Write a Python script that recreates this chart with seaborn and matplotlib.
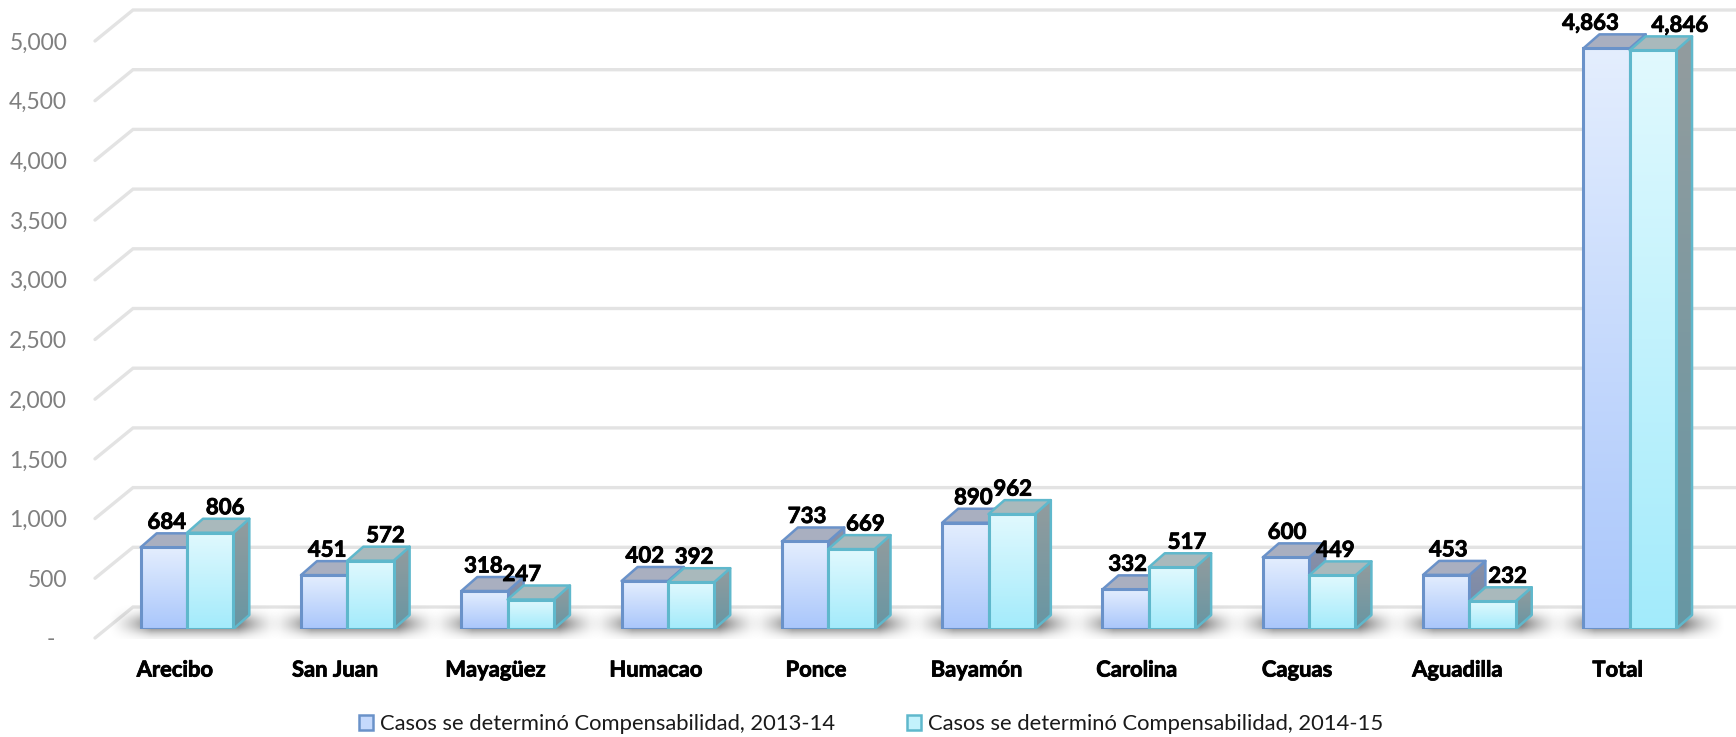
import numpy as np
import pandas as pd
import matplotlib
matplotlib.use("Agg")
import matplotlib.pyplot as plt
import matplotlib.patheffects as pe
from matplotlib.colors import LinearSegmentedColormap
from matplotlib.patches import Patch, Polygon
import seaborn as sns

categories = ["Arecibo", "San Juan", "Mayagüez", "Humacao", "Ponce", "Bayamón",
              "Carolina", "Caguas", "Aguadilla", "Total"]
series_names = ["Casos se determinó Compensabilidad, 2013-14",
                "Casos se determinó Compensabilidad, 2014-15"]
values_1314 = [684, 451, 318, 402, 733, 890, 332, 600, 453, 4863]
values_1415 = [806, 572, 247, 392, 669, 962, 517, 449, 232, 4846]
y_ticks = [0, 500, 1000, 1500, 2000, 2500, 3000, 3500, 4000, 4500, 5000]

# styling / layout (pixels)
W, H = 1736, 737
PX_PER_UNIT = 0.1194
PX_PER_CAT = 160.3
FIRST_CENTER = 187
LEFT = 95
FLOOR_FRONT = H - 638
BAR_BASE = H - 629
WALL_DX, WALL_DY = 38, 31
BAR_DX, BAR_DY = 16, 14
LABEL_UP = 25
XLABEL_SHIFT = 12
label_dx_1314 = [3, 3, -1, 0, 2, 8, 2, 1, 2, -16]
label_dx_1415 = [15, 15, -9, 3, 14, 1, 15, 3, 15, 27]
embolden = [pe.withStroke(linewidth=0.6, foreground="black")]

sns.set_theme(style="white")
plt.rcParams["font.family"] = ["Lato", "DejaVu Sans"]

df = pd.DataFrame({
    "Región": categories * 2,
    "Casos": values_1314 + values_1415,
    "Serie": [series_names[0]] * len(categories) + [series_names[1]] * len(categories),
})

fig = plt.figure(figsize=(W / 100, H / 100), dpi=100, facecolor="white")
xlim = ((LEFT - FIRST_CENTER) / PX_PER_CAT, (W - FIRST_CENTER) / PX_PER_CAT)

# wall + floor axes: carries the value ticks and gridlines
ax_wall = fig.add_axes([LEFT / W, FLOOR_FRONT / H, (W - LEFT) / W, (H - FLOOR_FRONT) / H])
ax_wall.set_xlim(*xlim)
ax_wall.set_ylim(0, (H - FLOOR_FRONT) / PX_PER_UNIT)
for s in ax_wall.spines.values():
    s.set_visible(False)
ax_wall.set_xticks([])
ax_wall.set_yticks(y_ticks)
ax_wall.set_yticklabels([f"{v:,}" if v else "-  " for v in y_ticks],
                        fontsize=16.5, color="#7f7f7f")
ax_wall.tick_params(axis="y", length=0, pad=20)
for v in y_ticks:
    vb = v + WALL_DY / PX_PER_UNIT
    ax_wall.plot([xlim[0], xlim[0] + WALL_DX / PX_PER_CAT, xlim[1]], [v, vb, vb],
                 color="#e3e3e3", lw=2.4, solid_joinstyle="miter", zorder=1, clip_on=False)

# bars axes
ax = fig.add_axes([LEFT / W, BAR_BASE / H, (W - LEFT) / W, (H - BAR_BASE) / H])
ax.patch.set_alpha(0)
sns.barplot(data=df, x="Región", y="Casos", hue="Serie", hue_order=series_names,
            order=categories, width=0.578, gap=0, dodge=True, legend=False, ax=ax,
            palette=["#c5d9fc", "#c3f2fc"], saturation=1, errorbar=None)
ylim = (0, (H - BAR_BASE) / PX_PER_UNIT)
ax.set_xticks(np.arange(len(categories)) - XLABEL_SHIFT / PX_PER_CAT, categories)
ax.set_xlim(*xlim)
ax.set_ylim(*ylim)
ax.set_autoscale_on(False)
for s in ax.spines.values():
    s.set_visible(False)
ax.set_xlabel("")
ax.set_ylabel("")
ax.set_yticks([])
ax.tick_params(axis="x", length=0, pad=22)
for t in ax.get_xticklabels():
    t.set_fontweight("bold")
    t.set_fontsize(15.8)
    t.set_color("black")
    t.set_path_effects(embolden)

# floor shadows
sx = np.linspace(-1, 1, 200)
sy = np.linspace(0, 1, 60)
xx, yy = np.meshgrid(sx, sy)
ax_alpha = np.clip((1 - np.abs(xx)) / 0.5, 0, 1) ** 1.6
ay_alpha = np.exp(-((yy - 0.55) / 0.30) ** 2)
shadow = np.zeros(xx.shape + (4,))
shadow[..., 3] = 0.5 * ax_alpha * ay_alpha
for i in range(len(categories)):
    ax.imshow(shadow, extent=[i - 88 / PX_PER_CAT + 0.05, i + 88 / PX_PER_CAT + 0.05,
                              -10 / PX_PER_UNIT, 24 / PX_PER_UNIT],
              origin="upper", aspect="auto", zorder=1, interpolation="bilinear", clip_on=False)

cmap_front = [LinearSegmentedColormap.from_list("f0", ["#e4eefe", "#a9c6fb"]),
              LinearSegmentedColormap.from_list("f1", ["#e1f9fe", "#a3ebfb"])]
cmap_side = [LinearSegmentedColormap.from_list("s0", ["#8b91a6", "#6f85ab"]),
             LinearSegmentedColormap.from_list("s1", ["#939c9e", "#6796a3"])]
top_col = ["#a9afc0", "#a9b9bc"]
edge_col = ["#6a92c9", "#5fb8cc"]
grad = np.linspace(0, 1, 256).reshape(-1, 1)

dx_u = BAR_DX / PX_PER_CAT
dy_u = BAR_DY / PX_PER_UNIT
bars = ax.patches[:]
n = len(categories)
z = 3
for sidx in range(2):
    offs = [label_dx_1314, label_dx_1415][sidx]
    for i in range(n):
        p = bars[sidx * n + i]
        x0, w, h = p.get_x(), p.get_width(), p.get_height()
        x1 = x0 + w
        side = Polygon([(x1, 0), (x1 + dx_u, dy_u), (x1 + dx_u, h + dy_u), (x1, h)],
                       closed=True, facecolor="none", edgecolor=edge_col[sidx], lw=1.8,
                       joinstyle="round", zorder=z + 1)
        ax.add_patch(side)
        im = ax.imshow(grad, extent=[x1, x1 + dx_u, 0, h + dy_u], origin="upper", aspect="auto",
                       cmap=cmap_side[sidx], zorder=z)
        im.set_clip_path(side)
        ax.add_patch(Polygon([(x0, h), (x0 + dx_u, h + dy_u), (x1 + dx_u, h + dy_u), (x1, h)],
                             closed=True, facecolor=top_col[sidx], edgecolor=edge_col[sidx],
                             lw=1.8, joinstyle="round", zorder=z + 1))
        ax.imshow(grad, extent=[x0, x1, 0, h], origin="upper", aspect="auto",
                  cmap=cmap_front[sidx], zorder=z + 2)
        p.set_facecolor("none")
        p.set_edgecolor(edge_col[sidx])
        p.set_linewidth(2.2)
        p.set_zorder(z + 3)
        ax.text((x0 + x1) / 2 + offs[i] / PX_PER_CAT, h + LABEL_UP / PX_PER_UNIT, f"{int(h):,}",
                ha="center", va="center", fontsize=16, fontweight="bold", color="black", zorder=60,
                path_effects=embolden)
    z += 6 if sidx == 0 else 0

handles = [Patch(facecolor="#c5d9fc", edgecolor=edge_col[0], lw=1.8),
           Patch(facecolor="#c3f2fc", edgecolor=edge_col[1], lw=1.8)]
fig.legend(handles, series_names, ncol=2, loc="center", bbox_to_anchor=(871 / W, 1 - 724 / H),
           frameon=False, fontsize=15.8, handlelength=0.65, handleheight=0.65,
           handletextpad=0.3, columnspacing=3.3, labelcolor="#1a1a1a")

fig.savefig("out.png", dpi=100, facecolor="white")
